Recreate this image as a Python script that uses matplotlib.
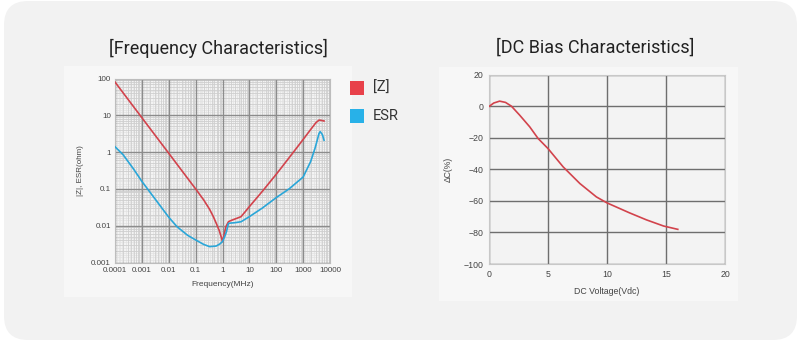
import matplotlib
matplotlib.use("Agg")
import matplotlib.pyplot as plt
import numpy as np
from matplotlib.patches import FancyBboxPatch, Rectangle
from matplotlib.ticker import FixedLocator, NullLocator

plt.rcParams['font.family'] = ['Liberation Sans', 'DejaVu Sans']

# frequency characteristics (MHz, ohm)
freq_z = [1e-4, 3e-4, 1e-3, 3e-3, 0.01, 0.03, 0.1, 0.2, 0.33, 0.45, 0.58, 0.75, 0.9, 1.0,
          1.15, 1.34, 1.66, 2.0, 2.7, 3.5, 4.9, 7.0, 10, 30, 100, 300, 1000,
          2000, 3000, 3900, 4600, 6000]
z_vals = [80, 27.6, 8.6, 2.97, 0.93, 0.32, 0.1, 0.05, 0.028, 0.018, 0.0118, 0.0075, 0.0049,
          0.0037, 0.0058, 0.0094, 0.0128, 0.0137, 0.0149, 0.016, 0.0176, 0.024,
          0.033, 0.085, 0.25, 0.7, 2.2, 4.3, 6.3, 7.4, 7.3, 7.0]
freq_esr = [1e-4, 2e-4, 5e-4, 1e-3, 3e-3, 0.01, 0.02, 0.05, 0.1, 0.2, 0.33, 0.58, 0.8,
            1.0, 1.2, 1.4, 1.66, 2.0, 2.7, 4.9, 10, 30, 100, 300, 1000, 1900,
            2800, 3900, 4300, 5200, 6000]
esr_vals = [1.4, 0.85, 0.34, 0.16, 0.055, 0.017, 0.0095, 0.0055, 0.0041, 0.0031, 0.0027,
            0.0028, 0.0032, 0.0037, 0.0050, 0.0068, 0.0115, 0.0118, 0.012, 0.0128,
            0.0176, 0.03, 0.058, 0.1, 0.21, 0.55, 1.3, 3.2, 3.6, 3.0, 2.1]

# DC bias characteristics
volt = [0, 0.4, 0.9, 1.4, 1.9, 2.6, 3.45, 4.16, 5.0, 6.28, 7.7, 9.1, 10.0, 11.9, 13.35, 14.8, 16.0]
dcap = [0, 2.2, 3.4, 2.6, 0.2, -5.5, -12.9, -20.3, -26.7, -38.3, -48.9, -57.4, -61.2,
        -67.5, -72.0, -75.9, -78.0]

W, H = 801, 342
fig = plt.figure(figsize=(W / 100, H / 100), dpi=100)
fig.patch.set_facecolor('white')

def px(x0, y0, x1, y1):
    return [x0 / W, 1 - y1 / H, (x1 - x0) / W, (y1 - y0) / H]

# background card and panels
bx = px(4, 1, 797, 340)
fig.patches.append(FancyBboxPatch((bx[0], bx[1]), bx[2], bx[3],
                                  boxstyle="round,pad=0,rounding_size=0.03",
                                  transform=fig.transFigure, facecolor='#f2f2f2',
                                  edgecolor='none', mutation_aspect=W / H, zorder=-3))
for r in (px(64, 66, 352, 297), px(439, 67, 738, 301)):
    fig.patches.append(Rectangle((r[0], r[1]), r[2], r[3], transform=fig.transFigure,
                                 facecolor='#f7f7f7', edgecolor='none', zorder=-2))

red = '#d2434c'
blue = '#2aa6d8'
tick_col = '#444444'

# left chart (log paper look)
ax1 = fig.add_axes(px(115, 78.5, 330, 262.5))
ax1.set_facecolor('#f3f3f3')
ax1.set_xscale('log')
ax1.set_yscale('log')
ax1.set_xlim(1e-4, 1e4)
ax1.set_ylim(1e-3, 100)
fine = [1.2, 1.4, 1.6, 1.8, 2.5, 3.5, 4.5]
mid = [2, 3, 4, 5, 6, 7, 8, 9]
for d in range(-4, 4):
    for k in fine:
        ax1.axvline(k * 10.0 ** d, color='#e2e2e2', lw=0.5, zorder=0.3)
    for k in mid:
        ax1.axvline(k * 10.0 ** d, color='#cfcfcf', lw=0.6, zorder=0.4)
for d in range(-3, 2):
    for k in fine:
        ax1.axhline(k * 10.0 ** d, color='#e2e2e2', lw=0.5, zorder=0.3)
    for k in mid:
        ax1.axhline(k * 10.0 ** d, color='#cfcfcf', lw=0.6, zorder=0.4)
xmaj = [1e-4, 1e-3, 1e-2, 0.1, 1, 10, 100, 1000, 1e4]
ymaj = [1e-3, 1e-2, 0.1, 1, 10, 100]
for v in xmaj:
    ax1.axvline(v, color='#8c8c8c', lw=1.0, zorder=0.6)
for v in ymaj:
    ax1.axhline(v, color='#8c8c8c', lw=1.0, zorder=0.6)
ax1.plot(freq_z, z_vals, color=red, lw=1.2, zorder=3)
ax1.plot(freq_esr, esr_vals, color=blue, lw=1.2, zorder=3)
ax1.xaxis.set_major_locator(FixedLocator(xmaj))
ax1.set_xticklabels(['0.0001', '0.001', '0.01', '0.1', '1', '10', '100', '1000', '10000'])
ax1.yaxis.set_major_locator(FixedLocator(ymaj))
ax1.set_yticklabels(['0.001', '0.01', '0.1', '1', '10', '100'])
ax1.xaxis.set_minor_locator(NullLocator())
ax1.yaxis.set_minor_locator(NullLocator())
ax1.tick_params(which='both', length=0, labelsize=5.8, colors=tick_col, pad=3)
for s in ax1.spines.values():
    s.set_color('#bdbdbd')
    s.set_linewidth(0.8)
ax1.set_xlabel('Frequency(MHz)', fontsize=6, color=tick_col, labelpad=5)
ax1.set_ylabel('|Z|, ESR(ohm)', fontsize=5.8, color=tick_col, labelpad=5)

# right chart
ax2 = fig.add_axes(px(489, 75, 725, 264))
ax2.set_facecolor('#f3f3f3')
ax2.set_xlim(0, 20)
ax2.set_ylim(-100, 20)
ax2.set_xticks([0, 5, 10, 15, 20])
ax2.set_yticks([-100, -80, -60, -40, -20, 0, 20])
ax2.grid(color='#6e6e6e', lw=1.0)
ax2.set_axisbelow(True)
ax2.plot(volt, dcap, color=red, lw=1.2, zorder=3)
ax2.tick_params(length=0, labelsize=6.3, colors=tick_col, pad=4)
for s in ax2.spines.values():
    s.set_color('#c8c8c8')
    s.set_linewidth(0.8)
ax2.set_xlabel('DC Voltage(Vdc)', fontsize=6.3, color=tick_col, labelpad=6)
ax2.set_ylabel('ΔC(%)', fontsize=6.2, color=tick_col, labelpad=8)

# titles
fig.text(218 / W, 1 - 48 / H, '[Frequency Characteristics]', ha='center', va='center',
         fontsize=13, color='#222222', family=['Roboto', 'DejaVu Sans'])
fig.text(595 / W, 1 - 48 / H, '[DC Bias Characteristics]', ha='center', va='center',
         fontsize=13, color='#222222', family=['Roboto', 'DejaVu Sans'])

# legend
for (yc, col, lab) in [(88, '#e8414a', '[Z]'), (116, '#28b1e8', 'ESR')]:
    r = px(350, yc - 7, 364, yc + 7)
    fig.patches.append(Rectangle((r[0], r[1]), r[2], r[3], transform=fig.transFigure,
                                 facecolor=col, edgecolor='none', zorder=2))
    fig.text(373 / W, 1 - yc / H, lab, ha='left', va='center', fontsize=10.5,
             color='#333333', family=['Roboto', 'DejaVu Sans'])

fig.savefig('out.png', dpi=100, facecolor='white')
